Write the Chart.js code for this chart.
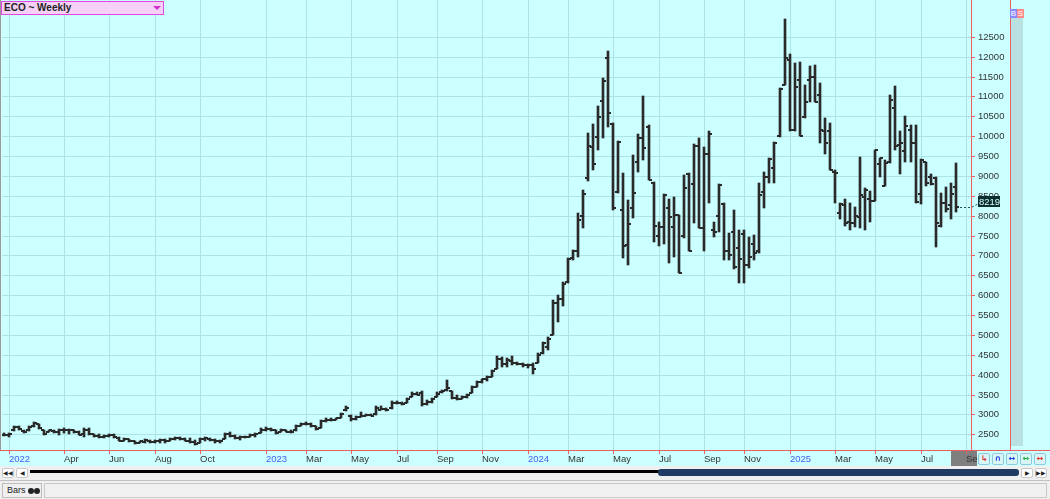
<!DOCTYPE html>
<html><head><meta charset="utf-8">
<script src="https://cdn.jsdelivr.net/npm/chart.js@4.4.0/dist/chart.umd.min.js"></script>
<style>
html,body{margin:0;padding:0;}
body{width:1050px;height:499px;overflow:hidden;background:#ccffff;position:relative;font-family:'Liberation Sans',Arial,sans-serif;}
.abs{position:absolute;box-sizing:border-box;}
#c{position:absolute;left:0;top:0;z-index:1;}
.btn{position:absolute;box-sizing:border-box;background:#fff;border:1px solid #c8c8c8;border-radius:2px;font-size:6px;line-height:8px;text-align:center;color:#222;z-index:2;}
.ib{position:absolute;box-sizing:border-box;top:453px;width:12px;height:12px;background:#d8f6f6;border:1px solid #8fc8d8;border-radius:2px;font-family:'DejaVu Sans';font-size:8px;line-height:10px;text-align:center;z-index:2;font-weight:bold;}
</style></head><body>
<div class="abs" style="left:951px;top:451px;width:26px;height:15px;background:#7f7f7f;z-index:0"></div>
<canvas id="c" width="1050" height="466"></canvas>

<div class="abs" style="left:0;top:0;width:1px;height:450px;background:#9a9a9a;z-index:2"></div>
<div class="abs" style="left:1px;top:1px;width:163px;height:14px;background:#f6d0f6;border:1px solid #e048e0;z-index:2;font-weight:bold;font-size:10px;line-height:12px;padding-left:2px;color:#222">ECO ~ Weekly</div>
<div class="abs" style="left:153px;top:6px;width:0;height:0;border-left:4px solid transparent;border-right:4px solid transparent;border-top:4px solid #d030d0;z-index:3"></div>

<div class="abs" style="left:1010px;top:0;width:1px;height:451px;background:#e86060;z-index:2"></div>
<div class="abs" style="left:1011px;top:18px;width:12px;height:428px;background:#b9e1e1;z-index:2"></div>
<div class="abs" style="left:1010px;top:9px;width:7px;height:9px;background:#8a8aff;color:#fff;font-size:8px;line-height:9px;text-align:center;z-index:3">B</div>
<div class="abs" style="left:1017px;top:9px;width:7px;height:9px;background:#ff8a8a;color:#fff;font-size:8px;line-height:9px;text-align:center;z-index:3">S</div>
<div class="abs" style="left:0;top:450px;width:1050px;height:1px;background:#e86060;z-index:2"></div>

<div class="ib" style="left:978px;color:#e03030">&#8627;</div>
<div class="ib" style="left:992px;color:#2040e0">&#8745;</div>
<div class="ib" style="left:1006px;color:#2040e0">&#8596;</div>
<div class="ib" style="left:1020px;color:#20b040">&#8596;</div>
<div class="ib" style="left:1034px;color:#e03030">&#8596;</div>

<div class="abs" style="left:0;top:466px;width:1050px;height:14px;background:#f0f0f0;z-index:2"></div>
<div class="btn" style="left:2px;top:468px;width:12px;height:10px;">&#9664;&#9664;</div>
<div class="btn" style="left:16px;top:468px;width:12px;height:10px;">&#9664;</div>
<div class="abs" style="left:30px;top:470px;width:630px;height:3px;background:#000;z-index:2"></div>
<div class="abs" style="left:658px;top:469px;width:361px;height:7px;background:#1f3b63;border-radius:3px;z-index:3"></div>
<div class="btn" style="left:1021px;top:468px;width:12px;height:10px;">&#9654;</div>
<div class="btn" style="left:1035px;top:468px;width:12px;height:10px;">&#9654;&#9654;</div>

<div class="abs" style="left:0;top:480px;width:1050px;height:19px;background:#f0f0f0;border-top:1px solid #c0c0c0;z-index:2"></div>
<div class="abs" style="left:2px;top:483px;width:40px;height:15px;border:1px solid #bdbdbd;background:#f0f0f0;z-index:3;font-size:9px;line-height:13px;padding-left:4px;color:#222">Bars <span style="display:inline-block;width:6px;height:6px;border-radius:3px;background:#222;vertical-align:-1px"></span><span style="display:inline-block;width:6px;height:6px;border-radius:3px;background:#222;vertical-align:-1px"></span></div>
<div class="abs" style="left:44px;top:483px;width:1003px;height:15px;border:1px solid #c8c8c8;background:#f0f0f0;z-index:3"></div>

<script>
// Weekly bars, week 0 = 2022-01-07
const openVals = [2490,2470,2600,2690,2580,2600,2700,2760,2600,2560,2580,2560,2600,2620,2600,2560,2500,2620,2500,2460,2430,2460,2470,2400,2340,2370,2320,2290,2310,2330,2300,2340,2360,2340,2390,2400,2370,2340,2300,2290,2380,2390,2350,2320,2380,2500,2450,2400,2420,2440,2480,2540,
2620,2640,2600,2560,2600,2570,2600,2720,2760,2750,2700,2660,2840,2860,2870,2920,3100,2960,2880,2940,2960,2980,3000,3120,3130,3150,3300,3280,3300,3450,3520,3540,3260,3320,3440,3560,3620,3580,3420,3400,3440,3540,3700,3820,3880,3950,4150,4400,4280,4350,4300,4270,
4250,4240,4300,4540,4700,5000,5800,5900,6320,6930,7100,8000,8940,9740,9970,10890,11960,10300,8600,8150,7260,8200,9340,9950,10240,8820,7490,7720,8190,7720,8020,7500,9050,8800,9750,7700,9550,7650,8000,8300,7100,7600,7200,7540,
6760,7300,7100,8600,8980,9200,10000,11290,11920,10160,11420,10490,11420,11500,11040,10120,10140,9110,8080,8270,7850,7810,7980,8460,8410,8380,9300,8750,9360,10700,9780,9640,10160,9820,8550,9340,8980,8940,7740,8330,8270,8730];
const highVals = [2540,2530,2710,2700,2600,2700,2810,2770,2620,2620,2600,2630,2650,2640,2620,2580,2650,2650,2520,2500,2480,2520,2500,2420,2400,2380,2330,2340,2370,2350,2360,2370,2390,2400,2440,2420,2400,2400,2360,2400,2420,2400,2380,2360,2540,2570,2480,2460,2450,2510,2530,2650,
2690,2670,2610,2640,2620,2600,2740,2790,2810,2780,2720,2860,2900,2910,2920,3030,3210,2980,2960,3060,3020,3020,3200,3210,3170,3340,3340,3320,3420,3570,3570,3600,3360,3420,3560,3620,3870,3600,3480,3460,3520,3720,3850,3900,3960,4120,4470,4450,4420,4470,4330,4300,
4270,4300,4540,4830,4960,5880,6010,6340,6930,7150,8060,8650,10070,10310,10760,11475,12150,10330,9880,9070,8400,9530,10050,11000,10280,8860,7850,8550,8410,8480,8020,9030,9070,9800,9950,9720,10120,7850,8800,8310,7560,8140,7640,7640,
7470,7520,8820,9110,9440,9860,11210,12940,12060,11840,11880,11290,11770,11790,11330,10450,10340,9150,8310,8410,8330,8230,9490,8710,8610,9650,9460,9400,11040,11270,10140,10510,10280,10280,9420,9360,9050,8970,8560,8720,8820,9320];
const lowVals = [2450,2440,2590,2620,2540,2590,2690,2640,2480,2550,2530,2490,2540,2520,2530,2470,2440,2480,2440,2410,2400,2440,2400,2320,2330,2310,2260,2270,2270,2280,2270,2290,2290,2320,2360,2360,2320,2270,2230,2280,2340,2320,2290,2280,2370,2440,2370,2350,2400,2430,2440,2530,
2590,2580,2510,2550,2550,2530,2590,2700,2730,2690,2610,2650,2820,2840,2850,2900,3090,2840,2860,2930,2950,2950,2990,3100,3080,3140,3260,3230,3290,3440,3480,3210,3240,3300,3430,3540,3600,3380,3370,3380,3420,3530,3690,3800,3840,3940,4140,4200,4200,4240,4240,4200,
4180,4020,4290,4530,4620,4990,5330,5730,6300,6880,6970,7680,8880,9150,9650,9950,10230,8150,8560,6930,6760,7940,9110,9400,8900,7350,7240,7300,6800,6970,6550,7430,7100,7810,7680,7100,8310,7470,7600,6890,6890,6650,6300,6300,
6680,6890,7050,8190,8820,8830,9970,11290,10120,10140,10010,10450,10870,10850,9840,9550,9150,8330,7910,7740,7640,7720,7680,7640,7850,8380,8980,8750,9320,9650,9050,9340,9340,8310,8300,8750,8770,7210,7710,8100,7910,8100];
const closeVals = [2470,2510,2690,2640,2560,2680,2780,2660,2520,2600,2560,2600,2620,2600,2560,2490,2620,2500,2460,2440,2460,2480,2420,2340,2380,2330,2280,2320,2350,2300,2340,2360,2320,2390,2400,2380,2340,2300,2260,2380,2400,2350,2320,2340,2520,2460,2400,2430,2440,2480,2500,2620,
2640,2600,2540,2600,2570,2560,2720,2760,2750,2720,2640,2840,2860,2870,2900,3000,3160,2880,2930,2960,2980,2970,3150,3140,3100,3300,3290,3260,3400,3520,3500,3260,3320,3400,3520,3600,3660,3420,3400,3440,3500,3700,3820,3880,3930,4100,4400,4280,4380,4300,4270,4250,
4240,4150,4500,4800,4900,5800,5900,6280,6900,7100,7900,8550,9750,9300,10480,11400,10590,8200,9850,7250,7800,8580,9950,9700,8900,7740,7720,8530,7980,8020,6560,8700,7100,9750,7700,9550,10060,7600,8780,7100,7000,6700,6900,6760,
6970,7050,8520,8980,9420,9840,11180,11960,10150,11250,10010,10850,11500,10870,10160,9820,9150,9070,8290,7810,7810,7990,8520,8650,8380,9650,9440,9330,10910,9750,9820,10260,9820,8350,9390,8820,8800,7810,8330,8160,8550,8219];
const tickWeeks  = [1,12,21,30,39,52,60,69,78,86,95,104,112,121,130,139,147,156,165,173,182,191];
const tickLabels = ['2022','Apr','Jun','Aug','Oct','2023','Mar','May','Jul','Sep','Nov','2024','Mar','May','Jul','Sep','Nov','2025','Mar','May','Jul','Sep'];
const yTickValues = [2500,3000,3500,4000,4500,5000,5500,6000,6500,7000,7500,8000,8500,9000,9500,10000,10500,11000,11500,12000,12500];

const barColor = '#2a2a2a';
function tickImg(side){
  const c = document.createElement('canvas'); c.width = 8; c.height = 2;
  const g = c.getContext('2d'); g.fillStyle = barColor;
  g.fillRect(side < 0 ? 1 : 4, 0, 3, 2);
  return c;
}
const bars = highVals.map((h, i) => ({x: i, y: [lowVals[i], h]}));
const opens = openVals.map((v, i) => ({x: i, y: v}));
const closes = closeVals.map((v, i) => ({x: i, y: v}));
const gridCol = '#ace4e6';
const axisRed = '#e86060';

const lastLabel = {
  id: 'lastLabel',
  afterDraw(chart){
    const ys = chart.scales.y, xs = chart.scales.x, ctx = chart.ctx;
    const li = closeVals.length - 1, v = closeVals[li];
    const py = ys.getPixelForValue(v), px = xs.getPixelForValue(li);
    const bx = chart.chartArea.right + 7, by = Math.round(py) - 11;
    ctx.save();
    ctx.strokeStyle = '#2a5050'; ctx.setLineDash([2,2]); ctx.lineWidth = 1;
    ctx.beginPath(); ctx.moveTo(px + 4, py + 0.5); ctx.lineTo(chart.chartArea.right, py + 0.5); ctx.lineTo(bx, by + 8); ctx.stroke();
    ctx.setLineDash([]);
    ctx.fillStyle = '#0b2e2e'; ctx.fillRect(bx, by, 22, 11);
    ctx.fillStyle = '#d8ffff'; ctx.font = '9.5px "Liberation Sans", Arial'; ctx.textBaseline = 'middle'; ctx.textAlign = 'left';
    ctx.fillText(String(v), bx + 1, by + 6);
    ctx.restore();
  }
};

new Chart(document.getElementById('c'), {
  type: 'bar',
  data: { datasets: [
    { type: 'bar', data: bars, backgroundColor: barColor, barThickness: 2, borderWidth: 0, order: 3 },
    { type: 'scatter', data: opens, pointStyle: tickImg(-1), order: 1 },
    { type: 'scatter', data: closes, pointStyle: tickImg(1), order: 2 }
  ]},
  options: {
    responsive: false, animation: false, events: [],
    layout: { autoPadding: false, padding: { left: 2, top: 0, right: 0, bottom: 0 } },
    plugins: { legend: { display: false }, tooltip: { enabled: false } },
    scales: {
      x: {
        type: 'linear', min: -0.3, max: 192, offset: false, bounds: 'data', alignToPixels: true,
        grid: { offset: false, color: gridCol, tickColor: axisRed, tickLength: 4, drawTicks: true },
        border: { color: axisRed },
        afterBuildTicks: s => { s.ticks = tickWeeks.map(v => ({ value: v })); },
        afterFit: s => { s.height = 16; s.paddingLeft = 0; s.paddingRight = 0; },
        ticks: {
          autoSkip: false, maxRotation: 0, minRotation: 0, align: 'start', padding: 0,
          font: { family: '"Liberation Sans", Arial', size: 9.5 },
          color: c => /^\d{4}$/.test(c.tick && c.tick.label) ? '#4a5cf0' : '#333',
          callback: v => { const k = tickWeeks.indexOf(v); return k >= 0 ? tickLabels[k] : ''; }
        }
      },
      y: {
        type: 'linear', position: 'right', min: 2105, max: 13428, bounds: 'data', alignToPixels: true,
        grid: { color: gridCol, tickColor: axisRed, tickLength: 4 },
        border: { color: axisRed },
        afterBuildTicks: s => { s.ticks = yTickValues.map(v => ({ value: v })); },
        afterFit: s => { s.width = 79; s.paddingTop = 0; s.paddingBottom = 0; },
        ticks: {
          padding: 3, color: '#333',
          font: { family: '"Liberation Sans", Arial', size: 9.5 },
          callback: v => String(v)
        }
      }
    }
  },
  plugins: [lastLabel]
});
</script>
</body></html>
